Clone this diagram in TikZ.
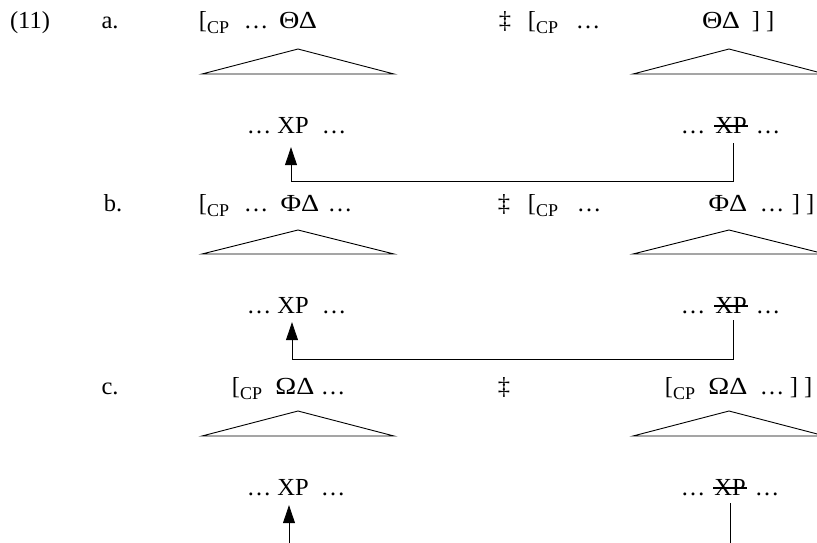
\documentclass[tikz,border=0pt]{standalone}
\usepackage{fontspec}
\setmainfont{Liberation Serif}
\usetikzlibrary{arrows.meta}
\newcommand{\exfont}{\fontsize{24.5}{29}\selectfont}
\newcommand{\cp}{\raisebox{-5pt}{\fontsize{18}{18}\selectfont CP}}
\newcommand{\gk}[1]{\scalebox{1.15}[1]{#1}}

\begin{document}
\begin{tikzpicture}[
  x=1pt, y=-1pt,
  >={Triangle[length=18pt,width=12pt]},
  txt/.style={anchor=base, inner sep=0pt, font=\exfont},
  tri/.style={draw=black, line width=0.9pt},
  mv/.style={->, line width=0.8pt},
  trace/.style={line width=0.8pt},
  strike/.style={line width=1.8pt},
]
\useasboundingbox (0,0) rectangle (817,542);
\clip (0,0) rectangle (817,542);

% row a
\node[txt] (exnum) at (30,28) {(11)};
\node[txt] (laba) at (110,28) {a.};
\node[txt] (cpLa) at (214,28) {[\cp};
\node[txt] (dotLa) at (256,28) {…};
\node[txt] (gkLa) at (298,28) {\gk{ΘΔ}};
\node[txt] (dagga) at (505,28) {‡};
\node[txt] (cpRa) at (543,28) {[\cp};
\node[txt] (dotRa) at (588,28) {…};
\node[txt] (gkRa) at (721,28) {\gk{ΘΔ}};
\node[txt] (brRa) at (763,28) {] ]};

\draw[tri] (202,74) -- (298,49) -- (394,74) -- cycle;
\draw[tri] (633,74) -- (729,49) -- (825,74) -- cycle;

\node[txt] (xpLa) at (293,133) {XP};
\node[txt] (xdLa1) at (259,133) {…};
\node[txt] (xdLa2) at (334,133) {…};
\node[txt] (xpRa) at (731,133) {XP};
\node[txt] (xdRa1) at (693,133) {…};
\node[txt] (xdRa2) at (768,133) {…};
\draw[strike] ([xshift=-1pt,yshift=7pt]xpRa.south west) -- ([xshift=1pt,yshift=7pt]xpRa.south east);
\draw[mv, shorten <=10pt, shorten >=14pt] ([xshift=2pt]xpRa.south) -- ++(0,48) -| ([xshift=-2pt]xpLa.south);

% row b
\node[txt] (labb) at (113,211) {b.};
\node[txt] (cpLb) at (214,211) {[\cp};
\node[txt] (dotLb) at (256,211) {…};
\node[txt] (gkLb) at (300,211) {\gk{ΦΔ}};
\node[txt] (dotLb2) at (340,211) {…};
\node[txt] (daggb) at (504,211) {‡};
\node[txt] (cpRb) at (543,211) {[\cp};
\node[txt] (dotRb) at (589,211) {…};
\node[txt] (gkRb) at (728,211) {\gk{ΦΔ}};
\node[txt] (dotRb2) at (772,211) {…};
\node[txt] (brRb) at (803,211) {] ]};

\draw[tri] (202,254) -- (298,230) -- (394,254) -- cycle;
\draw[tri] (633,254) -- (729,230) -- (825,254) -- cycle;

\node[txt] (xpLb) at (293,313) {XP};
\node[txt] (xdLb1) at (259,313) {…};
\node[txt] (xdLb2) at (334,313) {…};
\node[txt] (xpRb) at (731,313) {XP};
\node[txt] (xdRb1) at (693,313) {…};
\node[txt] (xdRb2) at (768,313) {…};
\draw[strike] ([xshift=-1pt,yshift=7pt]xpRb.south west) -- ([xshift=1pt,yshift=7pt]xpRb.south east);
\draw[mv, shorten <=7pt, shorten >=9pt] ([xshift=2pt]xpRb.south) -- ++(0,46) -| ([xshift=-1pt]xpLb.south);

% row c
\node[txt] (labc) at (110,394) {c.};
\node[txt] (cpLc) at (247,394) {[\cp};
\node[txt] (gkLc) at (295,394) {\gk{ΩΔ}};
\node[txt] (dotLc) at (333,394) {…};
\node[txt] (daggc) at (504,394) {‡};
\node[txt] (cpRc) at (680,394) {[\cp};
\node[txt] (gkRc) at (728,394) {\gk{ΩΔ}};
\node[txt] (dotRc) at (772,394) {…};
\node[txt] (brRc) at (801,394) {] ]};

\draw[tri] (202,436) -- (298,411) -- (394,436) -- cycle;
\draw[tri] (633,436) -- (729,411) -- (825,436) -- cycle;

\node[txt] (xpLc) at (293,495) {XP};
\node[txt] (xdLc1) at (259,495) {…};
\node[txt] (xdLc2) at (333,495) {…};
\node[txt] (xpRc) at (730,495) {XP};
\node[txt] (xdRc1) at (693,495) {…};
\node[txt] (xdRc2) at (767,495) {…};
\draw[strike] ([xshift=-1pt,yshift=7pt]xpRc.south west) -- ([xshift=1pt,yshift=7pt]xpRc.south east);
\coordinate (botL) at (289,545);
\coordinate (botR) at (730,545);
\draw[mv, shorten >=10pt] (botL) -- (botL |- xpLc.south);
\draw[trace, shorten <=8pt] (xpRc.south) -- (botR);

\end{tikzpicture}
\end{document}
